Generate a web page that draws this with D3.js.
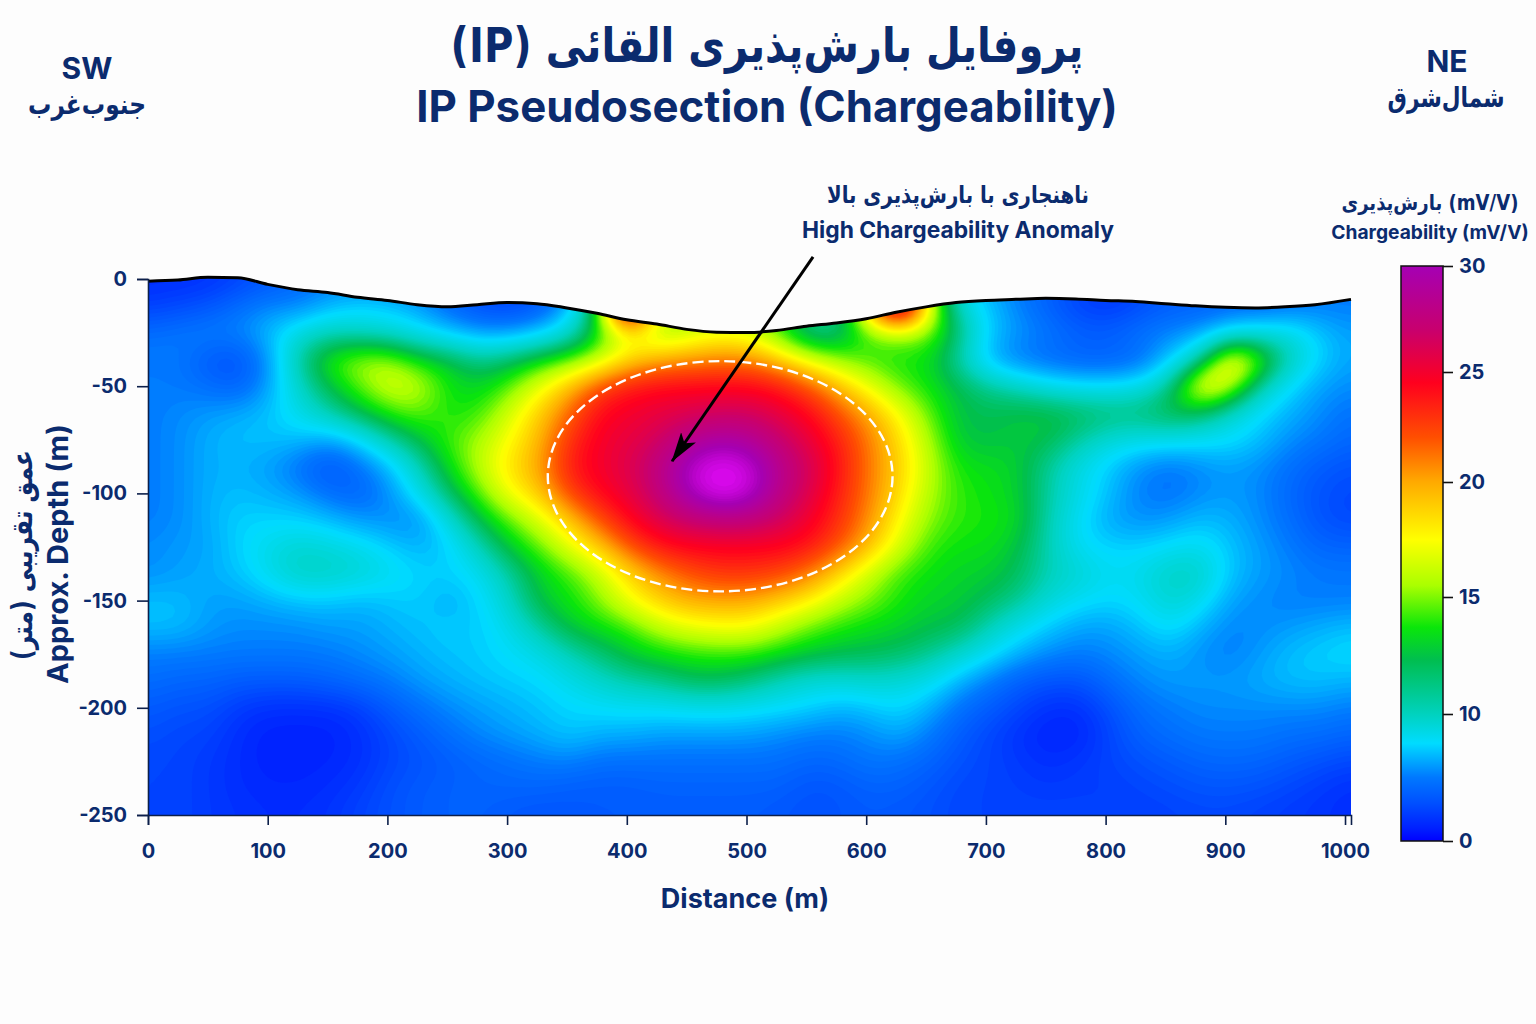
<!DOCTYPE html>
<html>
<head>
<meta charset="utf-8">
<script src="https://cdn.jsdelivr.net/npm/d3@7"></script>
<style>
  html, body { margin: 0; background: #fdfdfd; }
  svg { display: block; }
  text { font-family: Inter, "DejaVu Sans", sans-serif; font-weight: 700; fill: #0b2b6e; }
  .fa { font-family: "DejaVu Sans", sans-serif; }
  .tick text { font-size: 20px; font-family: Inter, sans-serif; }
</style>
</head>
<body>
<svg id="chart" width="1536" height="1024"></svg>
<script>
// columns run from 0 to 1005 m, rows from 0 to -250 m
const colStep = 25.125;
const rowStep = 12.5;

// chargeability, one line per depth row
const chargeability = [
  [1.5,1.5,1.5,2,3,4,5,5,5,5,4,3,2.5,3,5,10,16,14,14,14,14,14,12,12,14,22,14,8,6,5,4,3,2,3,4,4,4,4,4,5,5],
  [2,2.5,3,4.5,5.5,5,6.5,7.3,7,6,4,2.5,2,3,6,14,36,16,15,15,15,14,12,10,22,34,17,9,7,5,3.5,2,1.5,2.5,3.5,3.5,4,4,4.5,5,5],
  [4.5,5,5.5,5.5,7,9,10,9.5,9,8,7,6,6,7,9,13,17,14.5,16,17,16.5,14,10,11,14.5,15,15,12,7,6,5,4,4,5,5.5,6,8,8.5,9,7,6],
  [5,5,3.2,2.5,5.5,11,14.5,16,16,13.5,13,11,12,13.5,14.5,16,18.5,20,20.5,21,21,19,17,15,14,13.5,13.5,10,6,4.5,4,3.5,3.5,4,7,10,20,15.5,10,7.5,6],
  [5,5,4.5,3.5,6,9.5,12.5,14.5,17,16.5,13.5,13,14.5,17,19.5,22.5,24,24.5,24.5,24.5,24.5,24,22,19.5,17,14.5,13.5,12.5,11,10,8.5,8,8,8.5,11,20,17,10,7.5,6,5.5],
  [5,5.5,6,6.5,7,8.5,10.5,12.5,14,15,13.5,14,16.5,19,21.5,24.5,25,25.5,26,26.5,26.5,25.5,24.5,22,20,17.5,14.5,12.3,12.3,12.8,13,12.5,12,12,13,12,9,7.5,6.5,5.5,4.5],
  [5,5.5,6.5,7,7,7,6,7.5,10.5,12.5,14.5,15.5,17.5,19.5,23,25,25.5,26.5,28.5,29.5,29,27,25.5,23.5,21,18.5,15.5,12.5,12.3,12.8,12.5,10.5,9,8.5,8.5,8,8,7,5.5,5,4],
  [5,5.5,6.5,6.5,6,4.5,2.5,4.5,6.5,10,13.5,16,18.5,20,24,25,26,28,31,32.5,31.5,28.5,26.5,24,21,19,16,13.5,13.5,13,10.5,8.5,7,5.5,4.5,5.5,6,5.5,4.5,3.5,3],
  [5,5.5,6.5,7,6.5,6,4.5,3.5,5.5,8.5,12,14.5,17.5,19,22.5,24.5,25.5,27.5,30.5,32.5,31.5,28,26,23.5,21,18.5,15.5,14,13.5,13,10.5,8.5,7,5,4.5,5.5,6,5.5,4,3,2.5],
  [5,5.5,6.5,7.5,7.5,7.5,7,6,5.5,5,9,12.5,14.5,16.5,19,22,24.5,26,27,27.5,27.5,26.5,25,23,20.5,17.5,15,14,13.8,13.5,10,7.8,6,5.5,6,7,6.5,5.5,4.5,3,2.5],
  [5.5,6,6,7.5,8.5,9.5,9,8.5,7.5,6.5,7,10,13,14.5,17,19,22,24,24.5,24.5,24.5,24.5,24,22,19.5,16.5,14,13.5,13.5,12.5,10,7.8,7.5,7.5,8,8.5,7,6,5,4,4],
  [5.5,6,6.5,7,8.5,10,10,9.5,8.5,7.5,7.5,8,10.5,13,14,16,18.5,20.5,22,23,23,22.5,21,18.5,16,14,13.5,13,13,12,10,9.5,8,8.5,10,10,7,6,5.5,5,5],
  [7,7,6,6,6.5,7,7,6.5,7,7.5,6,7.5,9.5,13,13.5,15,17.5,19,20,20,20,19,18,16,15,13.8,13,13,12,11,9,8,7.5,8,9.5,8.5,6,5.5,5,5,5],
  [7,7,6,5.5,5.5,5.5,6,6,6.5,7,7.5,7,8.5,10.5,13,13.5,14,16,17,17.5,17.5,16,14.5,13.8,13.3,13,12.5,12.3,10,8.2,7,6,6,7,8.2,6.5,5.2,5.5,6,6.5,7],
  [5,5,5,5,5,5,5,5.5,6,6.5,7,7.3,7.8,8.5,10,11.5,13,13.5,13.8,14,14,13.5,13,12.5,12.3,12,11,9.5,8,6.5,5.5,5,5.5,6,6.5,5.5,5,6,7,7.5,8],
  [4.5,4,4,3.5,3.5,3.5,4,4.5,5,6,6.5,7,7.3,7.5,8.5,9.5,10.5,11,12.3,12.3,11.5,10,9,9,9.5,9,8.5,6.5,5,3.5,3,3,4.5,5.5,6,6,6,6.5,7,7,6.5],
  [3.5,3,3,2,1.5,1.5,1.5,2,3.5,4.5,5.5,6,6.5,7,7.5,7.8,8,8,8.2,8.3,8,7.8,7.5,6.5,7,7.8,6.5,4.5,3.5,2.5,1.5,1.5,3,4.5,5,5.5,5.5,5.5,5.5,5.5,5],
  [3,2.5,2.5,1.5,1,1,1,1.5,2.5,3.5,4.5,5.5,6,6.5,7.3,6.5,6.5,6,6,6,6,5.5,5,5,5.5,6.5,5,3.5,2.5,1.5,1,1,2.5,4,4.5,5,5,5,4.5,4.5,4],
  [2.5,2.5,2,1.5,1,1,1.2,1.5,2.5,3,3.5,4,4.5,5,5.3,4.5,4.5,4.5,4.5,4.5,4.5,4.5,4,4.2,5,4.5,4,3,2.5,2,1.5,2,2.5,3,3.5,4,4.2,4,3.5,3,2.5],
  [2.5,2.5,2,1.5,1.3,1.3,1.5,2,3,3.5,3.8,4,4,4,3.5,3.5,3.5,3.8,3.8,3.8,3.8,3.8,3,3.2,3.8,3.8,3.2,2.5,2.5,2.2,2,2.2,2.2,2.5,2.8,3.2,3.2,3,2.5,2,1.5],
  [2.5,2.5,2,1.8,1.5,1.5,1.8,2.5,3,3.5,3.8,3.8,3.3,3,3.3,3.5,3.5,3.5,3.5,3.5,3.5,3.2,3,3.2,3.5,3.2,3,2.5,2.5,2.5,2.5,2.5,2.2,2.2,2.3,2.5,2.5,2.2,2,1.8,1.5]
];

// ground surface
const surfaceDist = [0,25,50,75,100,125,150,175,200,225,250,275,300,325,350,375,400,425,450,475,500,525,550,575,600,625,650,675,700,725,750,775,800,825,850,875,900,925,950,975,1005];
const surfaceElev = [-1,-0.5,0.8,0.6,-2.5,-5,-6.3,-8.5,-10,-12,-13,-12,-11,-11.5,-13.5,-16,-19,-21,-23.5,-24.8,-25,-24,-22,-20.5,-18.5,-15.5,-13,-11,-10,-9.5,-9,-9.3,-10,-10.5,-11.5,-12.5,-13.2,-13.5,-13,-12,-9.5];

// colour ramp
const colorValues = [0,1,3,5,7.7,10,12.3,13.7,15.5,17.5,20,22,24.5,27,30,32];
const colorList = ["#0000ff","#0020ff","#0050ff","#0078ff","#00dcff","#00d2be","#00be50","#0ae60a","#aaff00","#ffff00","#ffaa00","#ff5000","#ff001e","#c8006e","#a500b4","#e10af5"];

// the colour bar ticks are not evenly spaced
const barTicks = [0,10,15,20,25,30];
const barTickPos = [841,714,597,482,372,266];

const xTicks = d3.range(0, 1001, 100);
const yTicks = [0,-50,-100,-150,-200,-250];

const svg = d3.select("#chart");
const x = d3.scaleLinear().domain([0, 1005]).range([148, 1351]);
const y = d3.scaleLinear().domain([0, -250]).range([279, 815]);
const color = d3.scaleLinear().domain(colorValues).range(colorList).clamp(true);
const barY = d3.scaleLinear().domain(barTicks).range(barTickPos);

svg.append("rect").attr("width", 1536).attr("height", 1024).attr("fill", "#fdfdfd");

// Clip the section to the ground
const ground = d3.area()
  .curve(d3.curveMonotoneX)
  .x(function(d, i) { return x(surfaceDist[i]); })
  .y0(y(-250))
  .y1(function(d) { return y(d); });
svg.append("clipPath").attr("id", "groundClip")
  .append("path").attr("d", ground(surfaceElev));

// Resample the read values on a finer raster and soften it, so bands are not faceted
const fine = 5;
const colCount = chargeability[0].length;
const rowCount = chargeability.length;
const fineW = (colCount - 1) * fine + 1;
const fineH = (rowCount - 1) * fine + 1;
const raster = new Float64Array(fineW * fineH);
for (var j = 0; j < fineH; j++) {
  for (var i = 0; i < fineW; i++) {
    var c0 = Math.floor(i / fine), r0 = Math.floor(j / fine);
    var c1 = Math.min(c0 + 1, colCount - 1), r1 = Math.min(r0 + 1, rowCount - 1);
    var tx = i / fine - c0, ty = j / fine - r0;
    raster[j * fineW + i] =
      chargeability[r0][c0] * (1 - tx) * (1 - ty) + chargeability[r0][c1] * tx * (1 - ty) +
      chargeability[r1][c0] * (1 - tx) * ty + chargeability[r1][c1] * tx * ty;
  }
}
d3.blur2({data: raster, width: fineW, height: fineH}, 2);

// Filled bands
const levels = d3.range(0, 33, 0.25);
const bands = d3.contours().size([fineW, fineH]).thresholds(levels)(raster);
const toPixels = d3.geoTransform({
  point: function(cx, cy) {
    this.stream.point(x((cx - 0.5) / fine * colStep), y((cy - 0.5) / fine * -rowStep));
  }
});
svg.append("g").attr("clip-path", "url(#groundClip)")
  .selectAll("path").data(bands).join("path")
  .attr("d", d3.geoPath(toPixels))
  .attr("fill", function(d) { return color(d.value + 0.125); });

// Surface line
svg.append("path")
  .attr("d", d3.line().curve(d3.curveMonotoneX).x(function(d, i) { return x(surfaceDist[i]); }).y(function(d) { return y(d); })(surfaceElev))
  .attr("fill", "none").attr("stroke", "#000").attr("stroke-width", 3);

// Axes
const xAxis = svg.append("g").attr("transform", "translate(0," + y(-250) + ")")
  .call(d3.axisBottom(x).tickValues(xTicks).tickFormat(String).tickSize(10).tickPadding(19));
const yAxis = svg.append("g").attr("transform", "translate(" + x(0) + ",0)")
  .call(d3.axisLeft(y).tickValues(yTicks).tickFormat(String).tickSize(11).tickPadding(10));
[xAxis, yAxis].forEach(function(a) {
  a.selectAll("path,line").attr("stroke", "#0c1f4a").attr("stroke-width", 1.6);
});

// Anomaly outline
svg.append("ellipse")
  .attr("cx", x(478)).attr("cy", y(-92))
  .attr("rx", x(144) - x(0)).attr("ry", y(-53.7) - y(0))
  .attr("fill", "none").attr("stroke", "#fff").attr("stroke-width", 2.4)
  .attr("stroke-dasharray", "11 5");

// Arrow
svg.append("marker").attr("id", "head")
  .attr("viewBox", "0 0 30 20").attr("refX", 29).attr("refY", 10)
  .attr("markerWidth", 30).attr("markerHeight", 20)
  .attr("markerUnits", "userSpaceOnUse").attr("orient", "auto")
  .append("path").attr("d", "M0,1 L30,10 L0,19 L7,10 Z").attr("fill", "#000");
svg.append("line")
  .attr("x1", x(555.6)).attr("y1", y(10.3)).attr("x2", x(437.8)).attr("y2", y(-85))
  .attr("stroke", "#000").attr("stroke-width", 3).attr("marker-end", "url(#head)");

// Colour bar
const grad = svg.append("linearGradient").attr("id", "barGrad")
  .attr("x1", 0).attr("x2", 0).attr("y1", 1).attr("y2", 0);
colorValues.filter(function(v) { return v <= 30; }).forEach(function(v) {
  grad.append("stop")
    .attr("offset", (barY(0) - barY(v)) / (barY(0) - barY(30)))
    .attr("stop-color", color(v));
});
svg.append("rect")
  .attr("x", 1401).attr("y", barY(30)).attr("width", 42).attr("height", barY(0) - barY(30))
  .attr("fill", "url(#barGrad)").attr("stroke", "#111").attr("stroke-width", 1.5);
const barAxis = svg.append("g").attr("transform", "translate(1443,0)")
  .call(d3.axisRight(barY).tickValues(barTicks).tickFormat(String).tickSize(10).tickPadding(6));
barAxis.select(".domain").remove();
barAxis.selectAll("line").attr("stroke", "#111").attr("stroke-width", 1.6);

// Text; fitWidth squeezes the wide Persian glyphs to the width in the picture
function label(txt, px, py, size, cls, rtl, fitWidth, angle) {
  var t = svg.append("text").text(txt)
    .attr("text-anchor", "middle").attr("dominant-baseline", "central")
    .attr("font-size", size).attr("class", cls || null)
    .attr("direction", rtl ? "rtl" : "ltr");
  var sx = fitWidth ? fitWidth / t.node().getComputedTextLength() : 1;
  t.attr("transform", "translate(" + px + "," + py + ") rotate(" + (angle || 0) + ") scale(" + sx + ",1)");
  return t;
}
label("پروفایل بارش‌پذیری القائی (IP)", 767, 45, 48, "fa", true, 633);
label("IP Pseudosection (Chargeability)", 767, 106, 43.8);
label("SW", 87, 68, 30);
label("جنوب‌غرب", 87, 104, 28, "fa", true, 118);
label("NE", 1447, 61, 30);
label("شمال‌شرق", 1446, 97, 28, "fa", true, 117);
label("ناهنجاری با بارش‌پذیری بالا", 958, 195, 24, "fa", true, 262);
label("High Chargeability Anomaly", 958, 229, 22.8);
label("بارش‌پذیری (mV/V)", 1430, 203, 21, "fa", false, 177);
label("Chargeability (mV/V)", 1430, 232, 19.2);
label("Distance (m)", 745, 898, 27);
label("Approx. Depth (m)", 57, 554, 29, null, false, null, -90);
label("عمق تقریبی (متر)", 22, 555, 28, "fa", true, 210, -90);
</script>
</body>
</html>
